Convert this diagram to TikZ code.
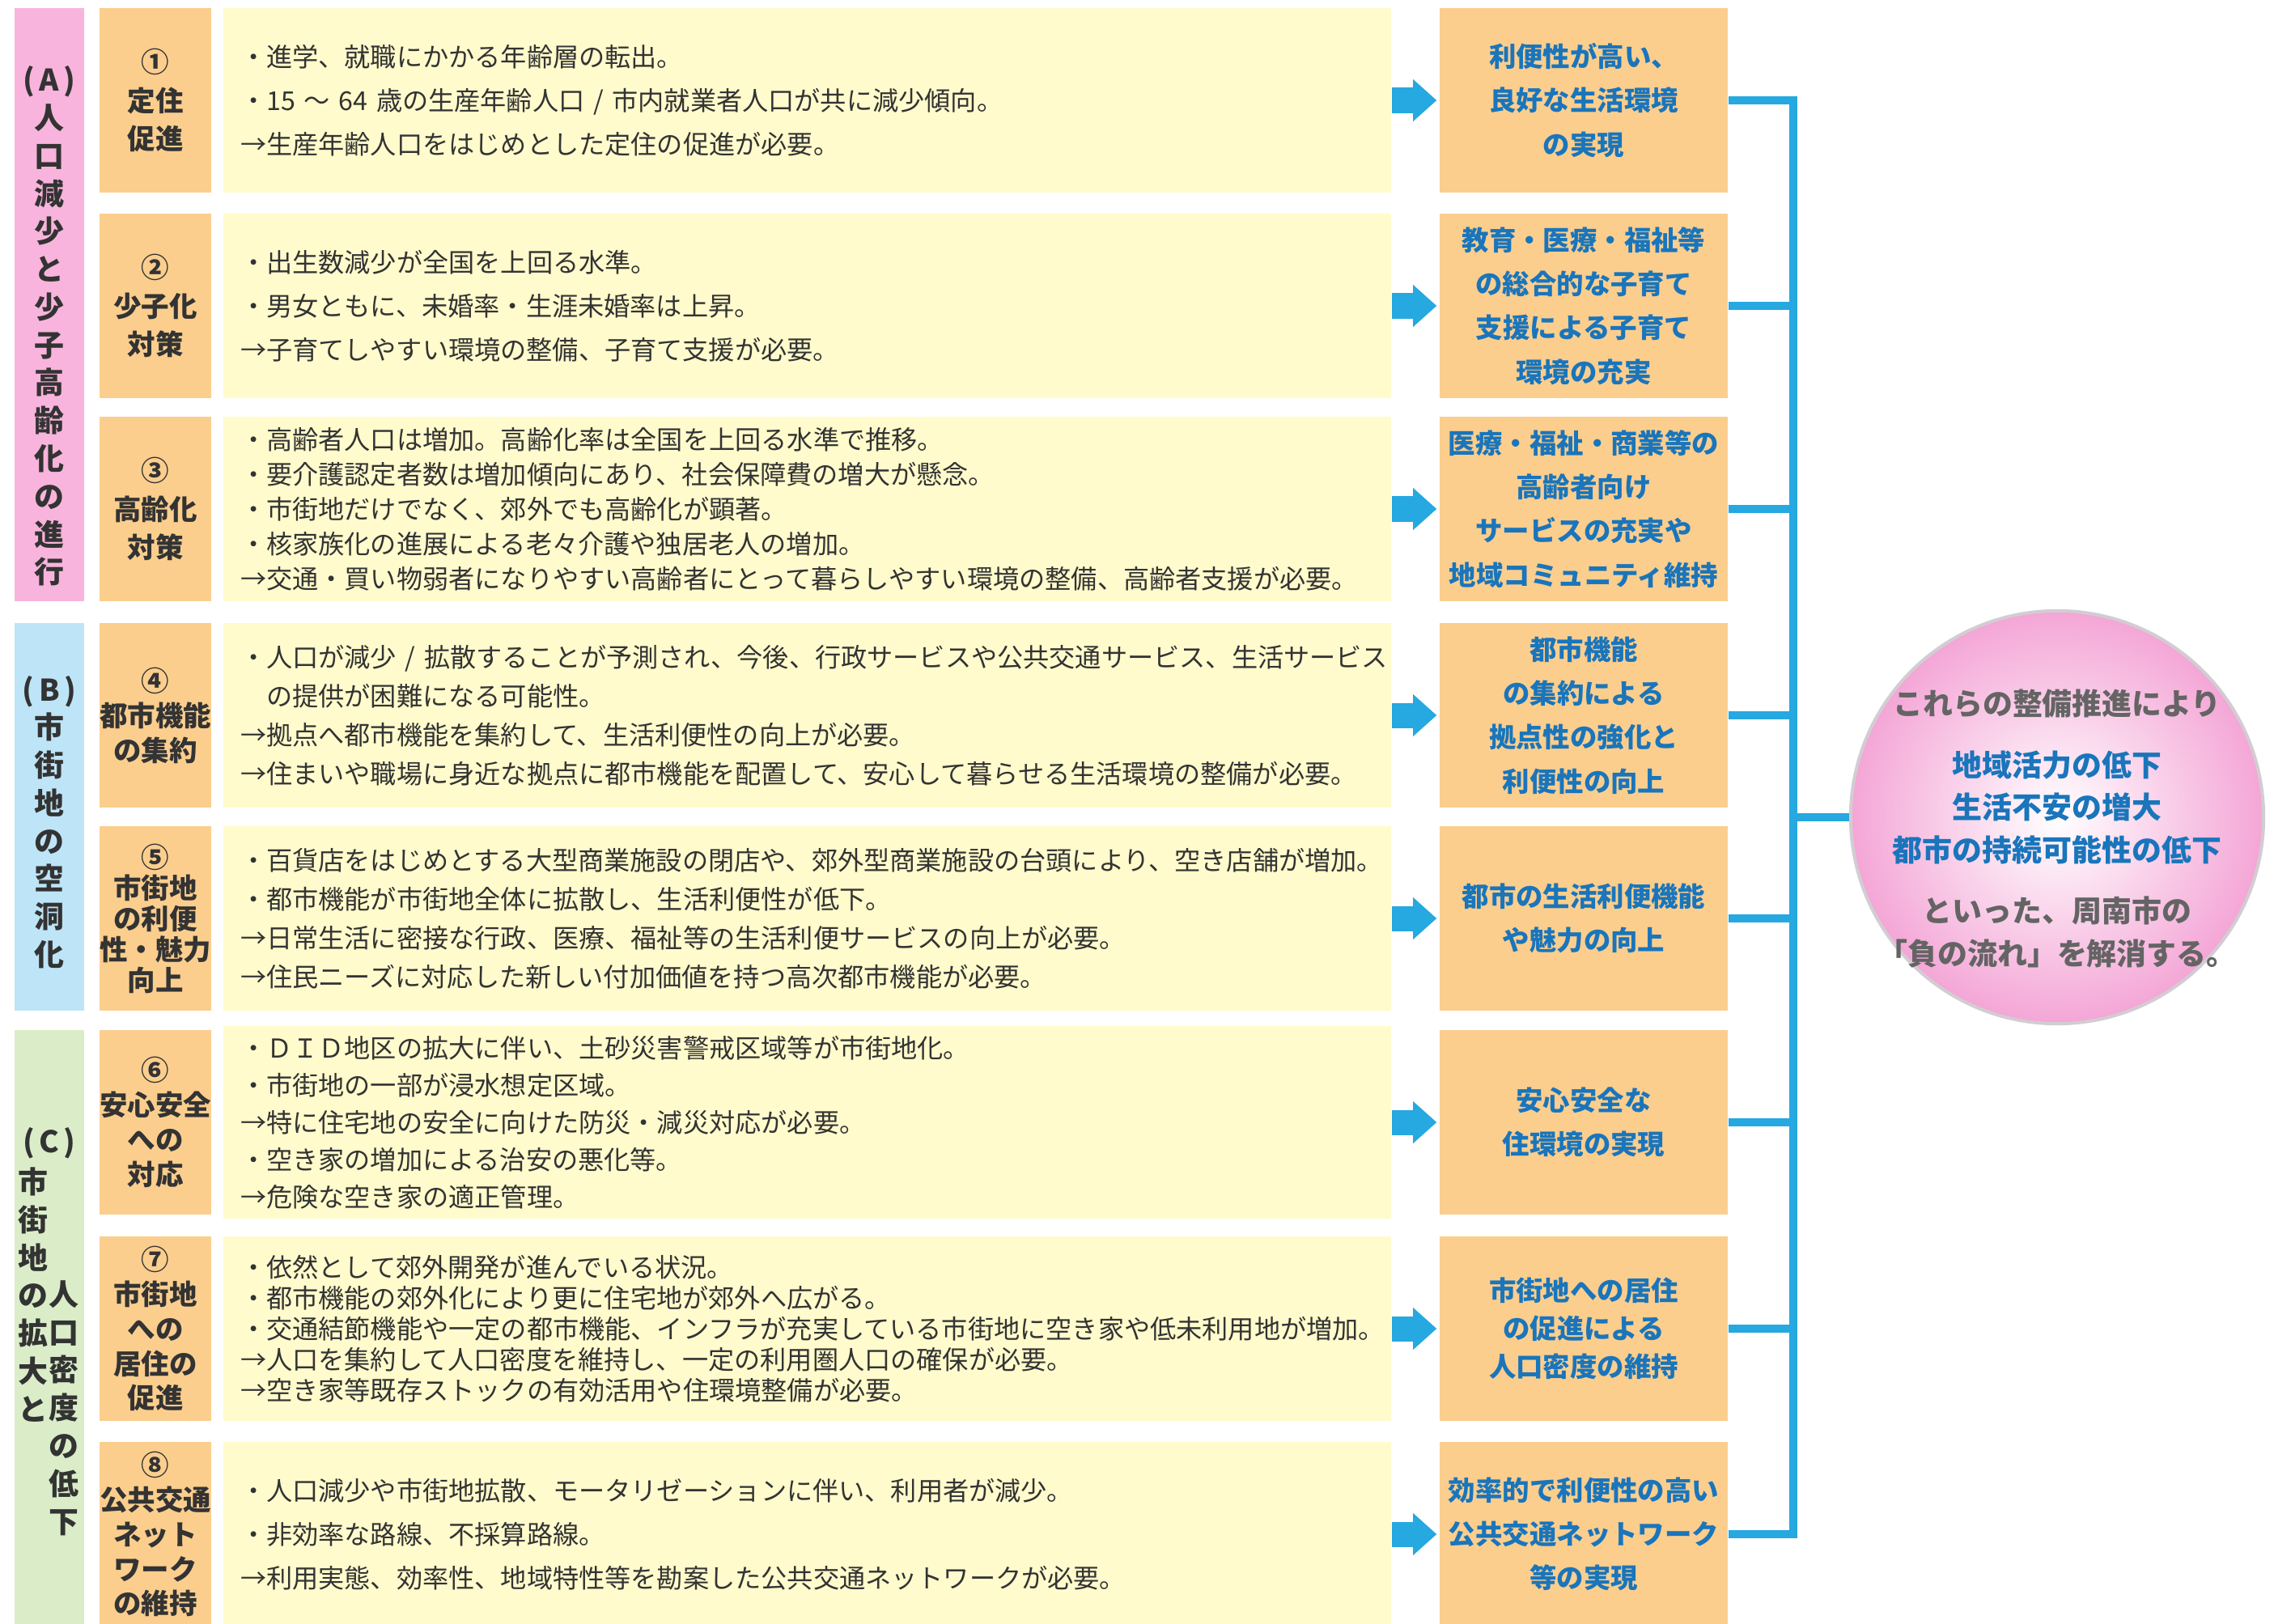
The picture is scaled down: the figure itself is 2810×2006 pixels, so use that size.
\documentclass[tikz,border=0pt]{standalone}
\usepackage{fontspec}
\setmainfont{Noto Sans CJK JP}
\usetikzlibrary{arrows.meta}
\definecolor{bandpink}{HTML}{F8B4DC}
\definecolor{bandblue}{HTML}{BEE4F7}
\definecolor{bandgreen}{HTML}{DAEDC8}
\definecolor{boxorange}{HTML}{FBCE8E}
\definecolor{boxyellow}{HTML}{FFFBCC}
\definecolor{linkblue}{HTML}{26A8E0}
\definecolor{headblue}{HTML}{1A75BB}
\definecolor{inkgray}{HTML}{333333}
\definecolor{circgray}{HTML}{646464}
\definecolor{circpink}{HTML}{F4A6D6}
\definecolor{circrim}{HTML}{D2CDD2}
\tikzset{
  band/.style={inner sep=0pt, minimum width=0.86cm},
  bandtext/.style={align=center, inner sep=0pt, text=inkgray, font=\bfseries\fontsize{10.5pt}{13.3pt}\selectfont},
  numbox/.style={fill=boxorange, minimum width=1.38cm, minimum height=2.28cm, inner sep=0pt, align=center, text=inkgray},
  textbox/.style={fill=boxyellow, minimum width=14.43cm, minimum height=2.28cm, inner xsep=0.2cm, text width=14cm, align=left, text=inkgray},
  resbox/.style={fill=boxorange, minimum width=3.56cm, minimum height=2.28cm, inner sep=0pt, align=center, text=headblue},
  flow/.style={linkblue, line width=0.31cm, -{Triangle[width=0.52cm, length=0.29cm, line width=0pt]}, shorten >=0.03cm},
  link/.style={linkblue, line width=0.1cm},
}
\newcommand{\numfont}[1]{\bfseries\fontsize{9.8pt}{#1}\selectfont}
\newcommand{\txtfont}[1]{\fontsize{9.15pt}{#1}\selectfont}
\newcommand{\resfont}[1]{\bfseries\fontsize{9.5pt}{#1}\selectfont}
\begin{document}
\begin{tikzpicture}[x=0.01cm, y=-0.01cm]
\path[use as bounding box, fill=white] (0,0) rectangle (2810,2006);

\node[band, fill=bandpink, minimum height=7.33cm] (bandA) at (61,376.5) {};
\node[band, fill=bandblue, minimum height=4.79cm] (bandB) at (61,1009.5) {};
\node[band, fill=bandgreen, minimum height=7.37cm] (bandC) at (61,1641.5) {};
\node[bandtext] (labelA) at (61,403) {(\hspace{0.15em}A\hspace{0.15em})\\人\\口\\減\\少\\と\\少\\子\\高\\齢\\化\\の\\進\\行};
\node[bandtext] (labelB) at (61,1016) {(\hspace{0.15em}B\hspace{0.15em})\\市\\街\\地\\の\\空\\洞\\化};
\node[bandtext] (labelC) at (61,1413) {(\hspace{0.15em}C\hspace{0.15em})};
\node[bandtext] (labelCl) at (41,1600) {市\\街\\地\\の\\拡\\大\\と};
\node[bandtext] (labelCr) at (79,1740) {人\\口\\密\\度\\の\\低\\下};

\node[numbox, font=\numfont{13.6pt}] (num1) at (192,124) {①\\定住\\促進};
\node[numbox, font=\numfont{13.6pt}] (num2) at (192,378) {②\\少子化\\対策};
\node[numbox, font=\numfont{13.6pt}] (num3) at (192,629) {③\\高齢化\\対策};
\node[numbox, font=\numfont{12.2pt}] (num4) at (192,884) {④\\都市機能\\の集約};
\node[numbox, font=\numfont{10.8pt}] (num5) at (192,1135) {⑤\\市街地\\の利便\\性・魅力\\向上};
\node[numbox, font=\numfont{12.2pt}] (num6) at (192,1387) {⑥\\安心安全\\への\\対応};
\node[numbox, font=\numfont{12.2pt}] (num7) at (192,1642) {⑦\\市街地\\への\\居住の\\促進};
\node[numbox, font=\numfont{12.2pt}] (num8) at (192,1896) {⑧\\公共交通\\ネット\\ワーク\\の維持};

\node[textbox, font=\txtfont{15.4pt}] (txt1) at (997.5,124) {・進学、就職にかかる年齢層の転出。\\・15~～~64~歳の生産年齢人口~/~市内就業者人口が共に減少傾向。\\→生産年齢人口をはじめとした定住の促進が必要。};
\node[textbox, font=\txtfont{15.4pt}] (txt2) at (997.5,378) {・出生数減少が全国を上回る水準。\\・男女ともに、未婚率・生涯未婚率は上昇。\\→子育てしやすい環境の整備、子育て支援が必要。};
\node[textbox, font=\txtfont{12.2pt}] (txt3) at (997.5,629) {・高齢者人口は増加。高齢化率は全国を上回る水準で推移。\\・要介護認定者数は増加傾向にあり、社会保障費の増大が懸念。\\・市街地だけでなく、郊外でも高齢化が顕著。\\・核家族化の進展による老々介護や独居老人の増加。\\→交通・買い物弱者になりやすい高齢者にとって暮らしやすい環境の整備、高齢者支援が必要。};
\node[textbox, font=\txtfont{13.7pt}] (txt4) at (997.5,884) {・人口が減少~/~拡散することが予測され、今後、行政サービスや公共交通サービス、生活サービス\\\hspace*{1em}の提供が困難になる可能性。\\→拠点へ都市機能を集約して、生活利便性の向上が必要。\\→住まいや職場に身近な拠点に都市機能を配置して、安心して暮らせる生活環境の整備が必要。};
\node[textbox, font=\txtfont{13.7pt}] (txt5) at (997.5,1135) {・百貨店をはじめとする大型商業施設の閉店や、郊外型商業施設の台頭により、空き店舗が増加。\\・都市機能が市街地全体に拡散し、生活利便性が低下。\\→日常生活に密接な行政、医療、福祉等の生活利便サービスの向上が必要。\\→住民ニーズに対応した新しい付加価値を持つ高次都市機能が必要。};
\node[textbox, font=\txtfont{13.1pt}] (txt6) at (997.5,1387) {・ＤＩＤ地区の拡大に伴い、土砂災害警戒区域等が市街地化。\\・市街地の一部が浸水想定区域。\\→特に住宅地の安全に向けた防災・減災対応が必要。\\・空き家の増加による治安の悪化等。\\→危険な空き家の適正管理。};
\node[textbox, font=\txtfont{10.8pt}] (txt7) at (997.5,1642) {・依然として郊外開発が進んでいる状況。\\・都市機能の郊外化により更に住宅地が郊外へ広がる。\\・交通結節機能や一定の都市機能、インフラが充実している市街地に空き家や低未利用地が増加。\\→人口を集約して人口密度を維持し、一定の利用圏人口の確保が必要。\\→空き家等既存ストックの有効活用や住環境整備が必要。};
\node[textbox, font=\txtfont{15.4pt}] (txt8) at (997.5,1896) {・人口減少や市街地拡散、モータリゼーションに伴い、利用者が減少。\\・非効率な路線、不採算路線。\\→利用実態、効率性、地域特性等を勘案した公共交通ネットワークが必要。};

\node[resbox, font=\resfont{15.4pt}] (res1) at (1957,124) {利便性が高い、\\良好な生活環境\\の実現};
\node[resbox, font=\resfont{15.4pt}] (res2) at (1957,378) {教育・医療・福祉等\\の総合的な子育て\\支援による子育て\\環境の充実};
\node[resbox, font=\resfont{15.4pt}] (res3) at (1957,629) {医療・福祉・商業等の\\高齢者向け\\サービスの充実や\\地域コミュニティ維持};
\node[resbox, font=\resfont{15.4pt}] (res4) at (1957,884) {都市機能\\の集約による\\拠点性の強化と\\利便性の向上};
\node[resbox, font=\resfont{15.4pt}] (res5) at (1957,1135) {都市の生活利便機能\\や魅力の向上};
\node[resbox, font=\resfont{15.4pt}] (res6) at (1957,1387) {安心安全な\\住環境の実現};
\node[resbox, font=\resfont{13.3pt}] (res7) at (1957,1642) {市街地への居住\\の促進による\\人口密度の維持};
\node[resbox, font=\resfont{15.4pt}] (res8) at (1957,1896) {効率的で利便性の高い\\公共交通ネットワーク\\等の実現};

\foreach \i in {1,...,8}
  \draw[flow] (txt\i) -- (res\i);

\coordinate (spine) at (2216,0);
\node[circle, draw=circrim, line width=0.04cm, minimum size=5.1cm, inner color=white, outer color=circpink] (goal) at (2542,1010) {};
\node[align=center, text=headblue, font=\bfseries\fontsize{10.5pt}{14.8pt}\selectfont] (goaltext) at (2542,1024)
  {\textcolor{circgray}{これらの整備推進により}\\[6.8pt]地域活力の低下\\生活不安の増大\\都市の持続可能性の低下\\[6.8pt]\textcolor{circgray}{といった、周南市の}\\\textcolor{circgray}{「負の流れ」を解消する。}};

\draw[link] (res1.east) -| (res8.east -| spine) -- (res8.east);
\foreach \i in {2,...,7}
  \draw[link] (res\i.east) -- (res\i.east -| spine);
\draw[link] (goal.west -| spine) -- (goal.west);
\end{tikzpicture}
\end{document}
